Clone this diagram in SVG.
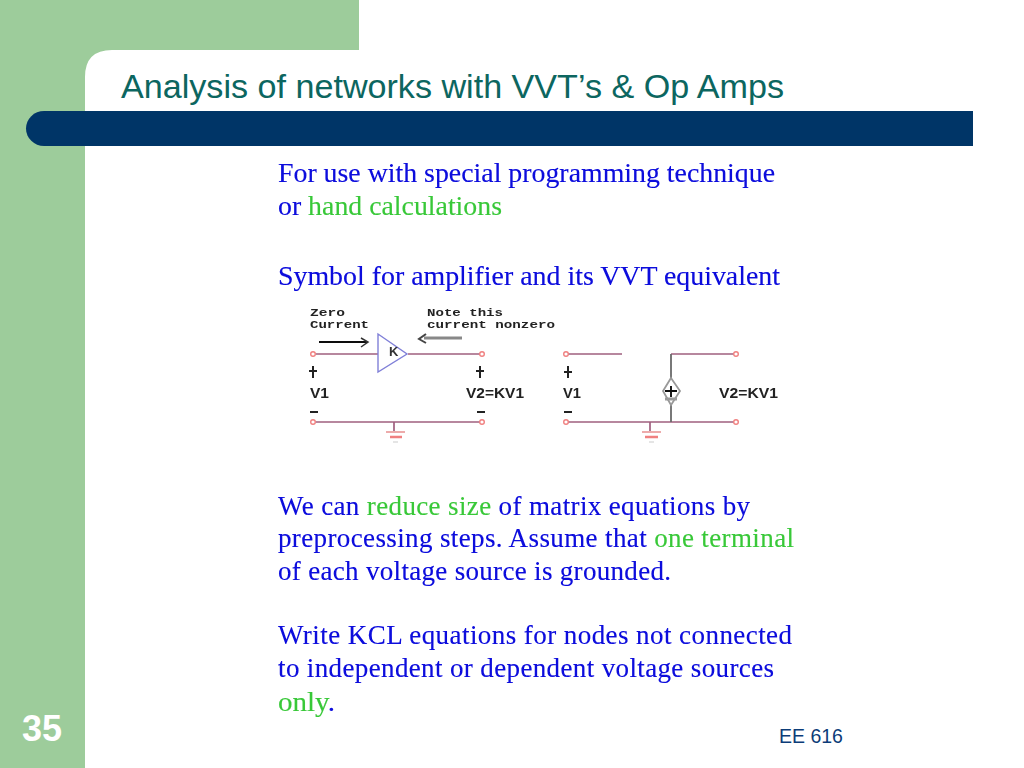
<svg xmlns="http://www.w3.org/2000/svg" width="1024" height="768" viewBox="0 0 1024 768">
<defs>
<filter id="soft" x="-5%" y="-20%" width="110%" height="140%"><feGaussianBlur stdDeviation="0.35"/></filter>
<filter id="softer" x="-10%" y="-10%" width="120%" height="120%"><feGaussianBlur stdDeviation="0.55"/></filter>
</defs>
<style>
.b{font-family:"Liberation Serif","Times New Roman",serif;font-size:27px;fill:#0808dc;stroke:#0808dc;stroke-width:.12}
.g{fill:#38c838;stroke:#38c838}
.w{stroke:#a0607f;stroke-width:1.7;fill:none}
.m{font-family:"Liberation Mono",monospace;font-size:11px;font-weight:bold;fill:#222}
.s{font-family:"Liberation Sans",sans-serif;font-size:15px;font-weight:bold;fill:#222}
.t{fill:#fff;stroke:#f08080;stroke-width:1.4}
.k{stroke:#222;stroke-width:2;fill:none}
</style>
<rect width="1024" height="768" fill="#fff"/>
<g id="background">
<path d="M0 0H359V50H112Q85 50 85 77V768H0Z" fill="#9dcc9b"/>
<path d="M44 111H973V146H44A18 17.500 0 0 1 44 111Z" fill="#003567"/>
</g>
<text id="title" x="121" y="98" font-family="Liberation Sans,sans-serif" font-size="33.500" fill="#0c6660" textLength="663" lengthAdjust="spacingAndGlyphs">Analysis of networks with VVT’s &amp; Op Amps</text>
<text id="page" x="42" y="741" text-anchor="middle" font-family="Liberation Sans,sans-serif" font-size="36" font-weight="bold" fill="#fff">35</text>
<text id="footer" x="779" y="743" font-family="Liberation Sans,sans-serif" font-size="19.500" fill="#0c3c78">EE 616</text>
<g id="text-top" filter="url(#soft)">
<text class="b" x="278" y="182" textLength="497" lengthAdjust="spacingAndGlyphs">For use with special programming technique</text>
<text class="b" x="278" y="215" textLength="224" lengthAdjust="spacingAndGlyphs">or <tspan class="g">hand calculations</tspan></text>
<text class="b" x="278" y="285" textLength="502" lengthAdjust="spacingAndGlyphs">Symbol for amplifier and its VVT equivalent</text>
</g>
<g id="text-bottom" filter="url(#soft)">
<text class="b" x="278" y="515" textLength="472" lengthAdjust="spacing">We can <tspan class="g">reduce size</tspan> of matrix equations by</text>
<text class="b" x="278" y="547" textLength="516" lengthAdjust="spacing">preprocessing steps. Assume that <tspan class="g">one terminal</tspan></text>
<text class="b" x="278" y="580" textLength="393" lengthAdjust="spacing">of each voltage source is grounded.</text>
<text class="b" x="278" y="644" textLength="514" lengthAdjust="spacing">Write KCL equations for nodes not connected</text>
<text class="b" x="278" y="677" textLength="496" lengthAdjust="spacing">to independent or dependent voltage sources</text>
<text class="b" x="278" y="711" textLength="57" lengthAdjust="spacingAndGlyphs"><tspan class="g">only</tspan>.</text>
</g>
<g id="connectors" filter="url(#softer)">
<path class="w" d="M316 354H378M408 354H480M316 422H481M568 354H622M671 354H734M568 422H734M394 422V431M650 422V431"/>
<path d="M671 354V379M671 404V422" stroke="#6a6a6a" stroke-width="1.800" fill="none"/>
<path d="M319 342H367" stroke="#111" stroke-width="1.800"/>
<path d="M361 338L368 342L361 347" fill="none" stroke="#333" stroke-width="1.500"/>
<path d="M462 338H424" stroke="#888" stroke-width="3"/>
<path d="M426 334L419 339L426 343" fill="none" stroke="#444" stroke-width="2"/>
</g>
<g id="amplifier" filter="url(#softer)">
<path d="M378 334V372L407 354Z" fill="#fff" stroke="#8080d8" stroke-width="1.400"/>
<text x="389" y="356" style="font-family:'Liberation Sans',sans-serif;font-size:13px;font-weight:bold;fill:#333">K</text>
</g>
<g id="source" filter="url(#softer)">
<path d="M671 378L680 391L671 405L663 391Z" fill="#fff" stroke="#999" stroke-width="1.800"/>
<path d="M671 386V397M665 391H677" stroke="#111" stroke-width="1.900"/>
<path d="M665 399H677" stroke="#999" stroke-width="3"/>
</g>
<g id="terminals" filter="url(#softer)">
<circle class="t" cx="313" cy="354" r="2.300"/><circle class="t" cx="482" cy="354" r="2.300"/>
<circle class="t" cx="313" cy="422" r="2.300"/><circle class="t" cx="482" cy="422" r="2.300"/>
<circle class="t" cx="566" cy="354" r="2.300"/><circle class="t" cx="736" cy="354" r="2.300"/>
<circle class="t" cx="566" cy="422" r="2.300"/><circle class="t" cx="736" cy="422" r="2.300"/>
</g>
<g id="grounds" filter="url(#softer)">
<path d="M386 432H405M642 432H661" stroke="#e89090" stroke-width="1.500"/>
<path d="M390 437H402M645 437H658" stroke="#f08080" stroke-width="2.400"/>
<path d="M393 442H398M649 442H654" stroke="#ddd" stroke-width="1.500"/>
</g>
<g id="labels" filter="url(#soft)">
<text class="m" x="310" y="316" textLength="35" lengthAdjust="spacingAndGlyphs">Zero</text>
<text class="m" x="310" y="328" textLength="59" lengthAdjust="spacingAndGlyphs">Current</text>
<text class="m" x="427" y="316" textLength="76" lengthAdjust="spacingAndGlyphs">Note this</text>
<text class="m" x="427" y="328" textLength="128" lengthAdjust="spacingAndGlyphs">current nonzero</text>
<text class="s" x="310" y="398" textLength="19" lengthAdjust="spacingAndGlyphs">V1</text>
<text class="s" x="466" y="398" textLength="58" lengthAdjust="spacingAndGlyphs">V2=KV1</text>
<text class="s" x="563" y="398" textLength="18" lengthAdjust="spacingAndGlyphs">V1</text>
<text class="s" x="719" y="398" textLength="59" lengthAdjust="spacingAndGlyphs">V2=KV1</text>
<path class="k" d="M313 366V378M309 371H317M480 366V378M476 371H484M568 366V378M564 372H572M310 412H318M477 412H485M564 412H572"/>
</g>
</svg>
